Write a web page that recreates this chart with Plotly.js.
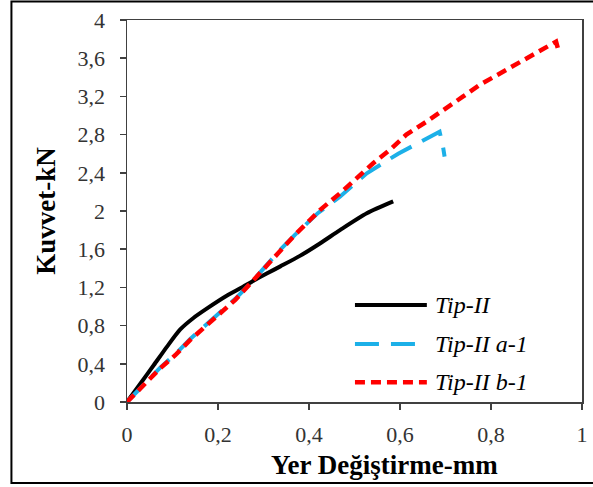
<!DOCTYPE html>
<html>
<head>
<meta charset="utf-8">
<script src="https://cdn.plot.ly/plotly-3.0.1.min.js"></script>
<style>html,body{margin:0;padding:0;background:#fff;}#chart{width:593px;height:487px;}</style>
</head>
<body>
<div id="chart"></div>
<script>
// Tip-II (black solid)
const tipII_x = [0, 0.03, 0.059, 0.088, 0.117, 0.146, 0.176, 0.22, 0.249, 0.278, 0.307, 0.337, 0.38, 0.424, 0.468, 0.527, 0.585];
const tipII_y = [0, 0.196, 0.387, 0.58, 0.76, 0.88, 0.98, 1.115, 1.19, 1.27, 1.345, 1.42, 1.53, 1.66, 1.8, 1.976, 2.10];
// Tip-II a-1 (blue long dash)
const tipIIa_x = [0, 0.041, 0.073, 0.106, 0.139, 0.172, 0.205, 0.238, 0.271, 0.304, 0.336, 0.369, 0.402, 0.42, 0.468, 0.527, 0.596, 0.665, 0.687, 0.694, 0.698];
const tipIIa_y = [0, 0.2, 0.36, 0.5, 0.66, 0.8, 0.94, 1.08, 1.24, 1.417, 1.59, 1.75, 1.9, 1.98, 2.15, 2.395, 2.6, 2.78, 2.83, 2.69, 2.57];
// Tip-II b-1 (red short dash)
const tipIIb_x = [0, 0.041, 0.073, 0.106, 0.139, 0.172, 0.205, 0.238, 0.271, 0.304, 0.336, 0.369, 0.402, 0.424, 0.468, 0.508, 0.541, 0.578, 0.614, 0.658, 0.694, 0.738, 0.775, 0.819, 0.863, 0.907, 0.943, 0.950];
const tipIIb_y = [0, 0.196, 0.353, 0.49, 0.65, 0.79, 0.93, 1.07, 1.24, 1.417, 1.59, 1.75, 1.906, 2.01, 2.185, 2.36, 2.50, 2.64, 2.80, 2.935, 3.058, 3.197, 3.32, 3.44, 3.563, 3.67, 3.773, 3.65];
const seriesNames = ['Tip-II', 'Tip-II a-1', 'Tip-II b-1'];
const xTicks = [0, 0.2, 0.4, 0.6, 0.8, 1];
const yTicks = [0, 0.4, 0.8, 1.2, 1.6, 2, 2.4, 2.8, 3.2, 3.6, 4];
const xTitle = 'Yer Değiştirme-mm';
const yTitle = 'Kuvvet-kN';

const colors = ['#000000', '#1CB0E8', '#FF0000'];
const widths = [4, 4, 4.5];
const dashes = ['solid', '24px,12px', '10px,6px'];

const traces = [
  {x: tipII_x, y: tipII_y, name: seriesNames[0], mode: 'lines', line: {color: colors[0], width: widths[0], shape: 'spline', smoothing: 0.7}},
  {x: tipIIa_x, y: tipIIa_y, name: seriesNames[1], mode: 'lines', line: {color: colors[1], width: widths[1], dash: dashes[1]}},
  {x: tipIIb_x, y: tipIIb_y, name: seriesNames[2], mode: 'lines', line: {color: colors[2], width: widths[2], dash: dashes[2]}}
];

const serif = 'Liberation Serif, Times New Roman, serif';
const axisCommon = {
  showline: true, mirror: true, linecolor: '#404040', linewidth: 1.5,
  ticks: 'outside', ticklen: 6, tickwidth: 1.5, tickcolor: '#404040',
  showgrid: false, zeroline: false,
  tickfont: {family: serif, size: 22, color: '#333333'}
};

// legend drawn as samples + labels (paper coordinates)
const legendRowsY = [0.254, 0.152, 0.052];
const legendShapes = seriesNames.map((n, i) => ({
  type: 'line', xref: 'paper', yref: 'paper', x0: 0.501, x1: 0.659, y0: legendRowsY[i], y1: legendRowsY[i],
  line: {color: colors[i], width: widths[i], dash: dashes[i]}
}));
const legendLabels = seriesNames.map((n, i) => ({
  xref: 'paper', yref: 'paper', x: 0.672, y: legendRowsY[i], xanchor: 'left', yanchor: 'middle',
  text: '<i>' + n + '</i>', showarrow: false, font: {family: serif, size: 24, color: '#000'}
}));
const xTitleAnn = {
  xref: 'paper', yref: 'paper', x: 0.567, y: -0.165, xanchor: 'center', yanchor: 'middle',
  text: '<b>' + xTitle + '</b>', showarrow: false, font: {family: serif, size: 27, color: '#000'}
};

const layout = {
  width: 593, height: 487,
  margin: {l: 126.5, r: 10.5, t: 20, b: 85},
  paper_bgcolor: '#ffffff', plot_bgcolor: '#ffffff',
  separators: ', ',
  showlegend: false,
  xaxis: Object.assign({}, axisCommon, {
    range: [0, 1], tickvals: xTicks, ticklabelstandoff: 6
  }),
  yaxis: Object.assign({}, axisCommon, {
    range: [0, 4], tickvals: yTicks, ticklabelstandoff: 10,
    title: {text: '<b>' + yTitle + '</b>', font: {family: serif, size: 27, color: '#000'}, standoff: 14}
  }),
  shapes: [
    {type: 'rect', xref: 'paper', yref: 'paper', x0: -0.254, x1: 1.06, y0: -0.212, y1: 1.0484,
     line: {color: '#000', width: 2}, fillcolor: 'rgba(0,0,0,0)', layer: 'below'}
  ].concat(legendShapes),
  annotations: legendLabels.concat([xTitleAnn])
};

Plotly.newPlot('chart', traces, layout, {staticPlot: true, displayModeBar: false});
</script>
</body>
</html>
